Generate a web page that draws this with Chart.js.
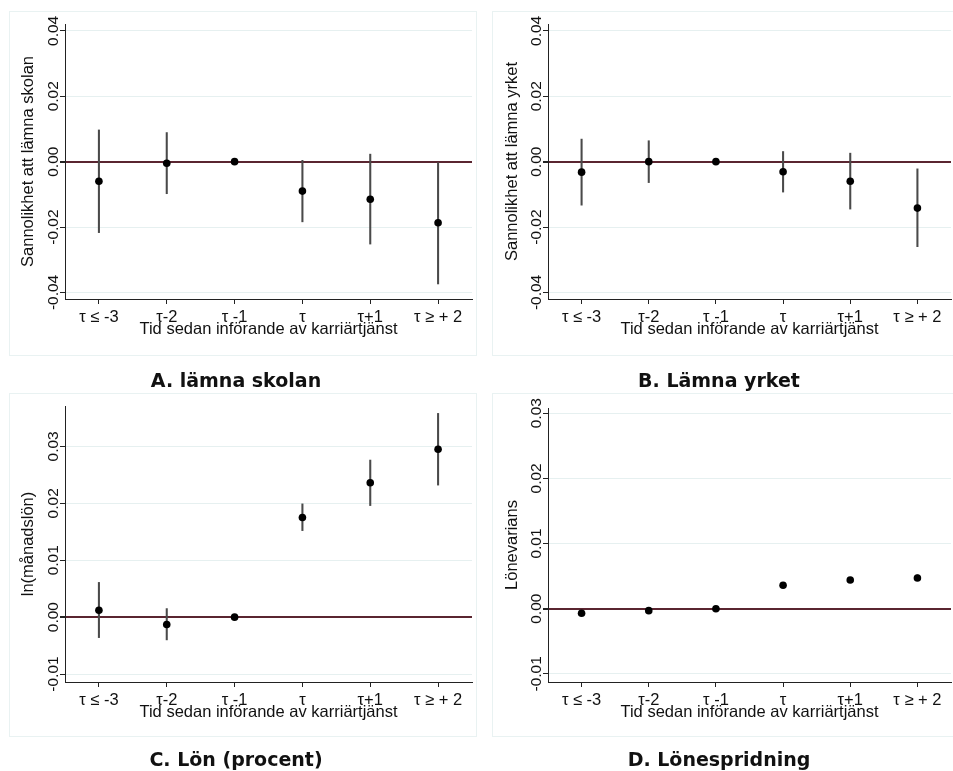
<!DOCTYPE html>
<html>
<head>
<meta charset="utf-8">
<script src="https://cdn.jsdelivr.net/npm/chart.js@4.4.1/dist/chart.umd.min.js"></script>
<style>
  html, body { margin: 0; padding: 0; background: #fff; }
  body { width: 953px; height: 771px; overflow: hidden; position: relative; }
  .frame { position: absolute; border: 1px solid #e9f2f2; box-sizing: border-box; }
  .box { position: absolute; }
  .title {
    position: absolute; transform: translate(-50%, -50%); white-space: nowrap;
    font-family: "DejaVu Sans", sans-serif; font-weight: 700; font-size: 19px; color: #111;
  }
</style>
</head>
<body>
<div class="frame" style="left:9px;top:11px;width:468px;height:345px"></div>
<div class="frame" style="left:492px;top:11px;width:470px;height:345px"></div>
<div class="frame" style="left:9px;top:393px;width:468px;height:344px"></div>
<div class="frame" style="left:492px;top:393px;width:470px;height:344px"></div>

<div class="box" style="left:0;top:0;width:476px;height:360px"><canvas id="chart-a" width="476" height="360"></canvas></div>
<div class="box" style="left:476px;top:0;width:479px;height:360px"><canvas id="chart-b" width="479" height="360"></canvas></div>
<div class="box" style="left:0;top:360px;width:476px;height:411px"><canvas id="chart-c" width="476" height="411"></canvas></div>
<div class="box" style="left:476px;top:360px;width:479px;height:411px"><canvas id="chart-d" width="479" height="411"></canvas></div>

<div class="title" style="left:236px;top:380px">A. lämna skolan</div>
<div class="title" style="left:719px;top:380px">B. Lämna yrket</div>
<div class="title" style="left:236px;top:759px">C. Lön (procent)</div>
<div class="title" style="left:719px;top:759px">D. Lönespridning</div>

<script>
// Categories (time relative to introduction)
const periods = ['τ ≤ -3', 'τ-2', 'τ -1', 'τ', 'τ+1', 'τ ≥ + 2'];

// A. leave school
const skolanEst = [-0.0060, -0.0005, 0, -0.0090, -0.0115, -0.0187];
const skolanLo  = [-0.0217, -0.0098, null, -0.0184, -0.0252, -0.0374];
const skolanHi  = [0.0097, 0.0089, null, 0.0004, 0.0023, 0.0000];

// B. leave profession
const yrketEst = [-0.0032, 0.0000, 0, -0.0031, -0.0060, -0.0142];
const yrketLo  = [-0.0133, -0.0064, null, -0.0093, -0.0145, -0.0260];
const yrketHi  = [0.0069, 0.0064, null, 0.0031, 0.0026, -0.0022];

// C. wage
const lonEst = [0.0012, -0.0013, 0, 0.0175, 0.0236, 0.0295];
const lonLo  = [-0.0036, -0.0040, null, 0.0152, 0.0196, 0.0232];
const lonHi  = [0.0061, 0.0015, null, 0.0199, 0.0276, 0.0358];

// D. wage dispersion
const spridEst = [-0.0007, -0.0003, 0, 0.0036, 0.0044, 0.0047];
const spridLo  = [-0.0009, -0.0005, null, 0.0034, 0.0042, 0.0043];
const spridHi  = [-0.0005, -0.0001, null, 0.0038, 0.0046, 0.0052];

// Tick values
const ticksAB = [-0.04, -0.02, 0, 0.02, 0.04];
const ticksCD = [-0.01, 0, 0.01, 0.02, 0.03];

const FONT = '"Liberation Sans", Arial, sans-serif';
const GRID = '#e6f0f0';
const ZERO = '#5a2530';
const AXIS = '#222';

// rotated y tick labels (Stata style)
const yTickLabels = {
    id: 'yTickLabels',
    afterDraw(chart) {
        const y = chart.scales.y;
        const ctx = chart.ctx;
        ctx.save();
        ctx.font = '15.5px ' + FONT;
        ctx.fillStyle = '#111';
        ctx.textAlign = 'center';
        ctx.textBaseline = 'alphabetic';
        y.ticks.forEach(t => {
            ctx.save();
            ctx.translate(y.right - 7, y.getPixelForValue(t.value));
            ctx.rotate(-Math.PI / 2);
            ctx.fillText(t.value.toFixed(2), 0, 0);
            ctx.restore();
        });
        ctx.restore();
    }
};

function makeChart(id, cfg) {
    const ctx = document.getElementById(id).getContext('2d');
    return new Chart(ctx, {
        type: 'bar',
        data: {
            labels: periods,
            datasets: [{
                type: 'line',
                data: cfg.est,
                showLine: false,
                pointRadius: 3.8,
                pointBackgroundColor: '#000',
                pointBorderWidth: 0,
                order: 0
            }, {
                type: 'bar',
                data: cfg.lo.map((v, i) => v === null ? null : [v, cfg.hi[i]]),
                backgroundColor: '#4a4a4a',
                borderWidth: 0,
                barThickness: 1.4,
                grouped: false,
                order: 1
            }]
        },
        options: {
            responsive: false,
            animation: false,
            layout: { padding: cfg.padding },
            plugins: { legend: { display: false }, tooltip: { enabled: false } },
            scales: {
                x: {
                    offset: true,
                    grid: { drawOnChartArea: false, drawTicks: true, tickLength: 5, tickColor: AXIS, offset: false },
                    border: { color: AXIS, width: 1 },
                    ticks: { color: '#111', font: { family: FONT, size: 16.5 }, padding: 4, maxRotation: 0, autoSkip: false },
                    title: {
                        display: true,
                        text: 'Tid sedan införande av karriärtjänst',
                        color: '#111',
                        font: { family: FONT, size: 16.5 },
                        padding: { top: 0, bottom: 20.5 }
                    },
                    afterFit: s => { s.height = 61; }
                },
                y: {
                    min: cfg.min,
                    max: cfg.max,
                    afterBuildTicks: s => { s.ticks = cfg.ticks.map(v => ({ value: v })); },
                    grid: {
                        color: c => (c.tick && c.tick.value === 0) ? ZERO : GRID,
                        lineWidth: c => (c.tick && c.tick.value === 0) ? 2 : 1,
                        tickColor: AXIS,
                        tickLength: 5
                    },
                    border: { color: AXIS, width: 1 },
                    ticks: { display: false },
                    title: {
                        display: true,
                        text: cfg.yTitle,
                        color: '#111',
                        font: { family: FONT, size: 16.5 },
                        padding: { top: cfg.titlePad, bottom: 0 }
                    },
                    afterFit: s => { s.width = cfg.yWidth; }
                }
            }
        },
        plugins: [yTickLabels]
    });
}

makeChart('chart-a', {
    est: skolanEst, lo: skolanLo, hi: skolanHi,
    min: -0.0420, max: 0.0421, ticks: ticksAB,
    yTitle: 'Sannolikhet att lämna skolan', titlePad: 18.5, yWidth: 65,
    padding: { top: 24, right: 4, left: 0, bottom: 0 }
});
makeChart('chart-b', {
    est: yrketEst, lo: yrketLo, hi: yrketHi,
    min: -0.0420, max: 0.0421, ticks: ticksAB,
    yTitle: 'Sannolikhet att lämna yrket', titlePad: 27, yWidth: 72,
    padding: { top: 24, right: 0, left: 0, bottom: 0 }
});
makeChart('chart-c', {
    est: lonEst, lo: lonLo, hi: lonHi,
    min: -0.0114, max: 0.0371, ticks: ticksCD,
    yTitle: 'ln(månadslön)', titlePad: 18.5, yWidth: 65,
    padding: { top: 46, right: 4, left: 0, bottom: 28 }
});
makeChart('chart-d', {
    est: spridEst, lo: spridLo, hi: spridHi,
    min: -0.01125, max: 0.0308, ticks: ticksCD,
    yTitle: 'Lönevarians', titlePad: 27, yWidth: 72,
    padding: { top: 48, right: 0, left: 0, bottom: 28 }
});
</script>
</body>
</html>
